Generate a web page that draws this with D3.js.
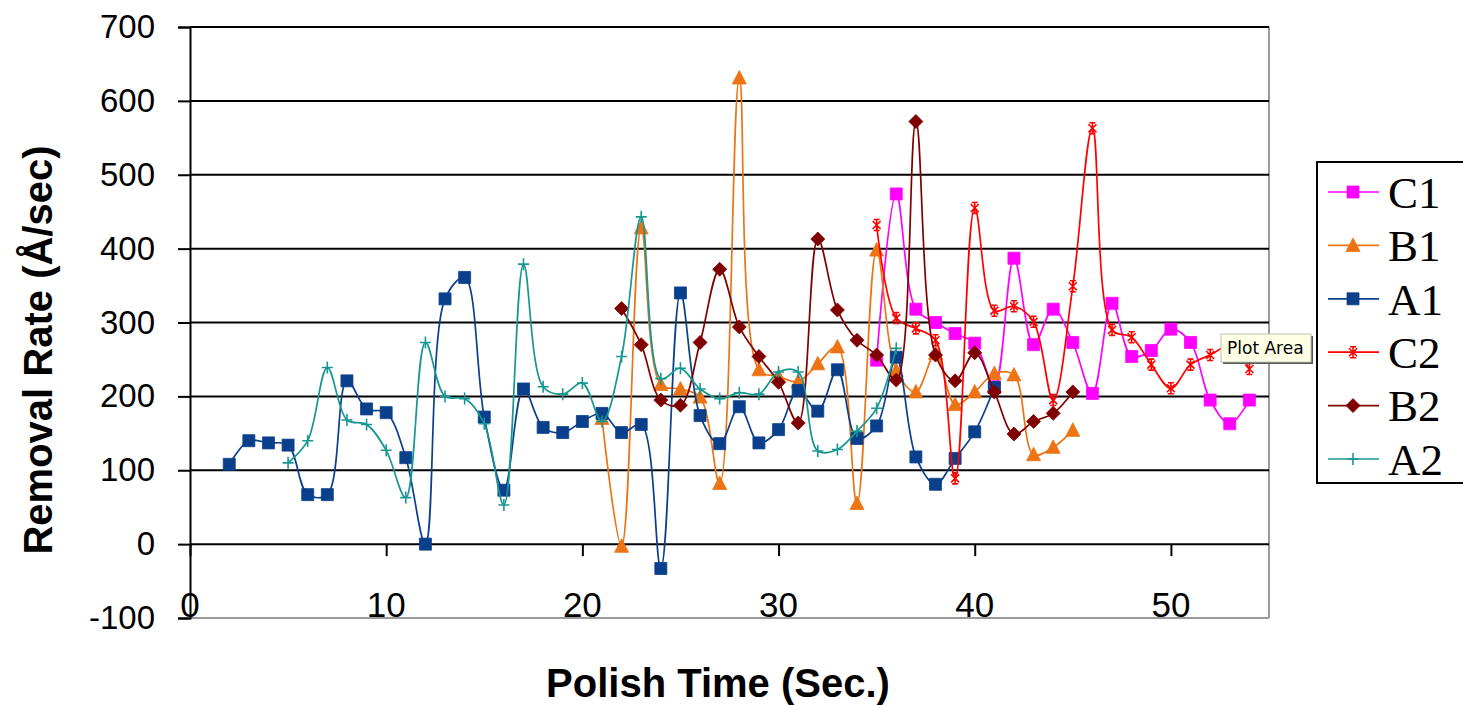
<!DOCTYPE html>
<html>
<head>
<meta charset="utf-8">
<script src="https://cdn.jsdelivr.net/npm/d3@7"></script>
<style>
  html, body { margin: 0; padding: 0; background: #fff; }
  svg { display: block; }
</style>
</head>
<body>
<svg id="chart" width="1463" height="705"></svg>
<script>
// Removal rate (Å/sec) sampled once per second of polish time, one array per run.
const seriesNames = ["C1", "B1", "A1", "C2", "B2", "A2"];

const c1Start = 35;
const c1Values = [249, 474, 318, 300, 285, 272, 213, 387, 270, 318, 273, 204, 326, 254, 262, 291, 273, 195, 163, 195];

const b1Start = 21;
const b1Values = [170, -3, 428, 216, 210, 199, 82, 631, 236, 227, 220, 244, 267, 55, 398, 235, 206, 258, 189, 206, 231, 229, 121, 131, 154];

const a1Start = 2;
const a1Values = [108, 140, 137, 134, 67, 67, 221, 183, 178, 117, 0, 332, 361, 172, 73, 210, 158, 151, 166, 177, 151, 162, -33, 340, 174, 136, 186, 137, 155, 208, 180, 236, 143, 160, 253, 118, 81, 116, 152, 212];

const c2Start = 35;
const c2Values = [432, 306, 292, 276, 89, 455, 316, 322, 301, 195, 349, 563, 290, 280, 243, 211, 243, 256, 268, 237];

const b2Start = 22;
const b2Values = [319, 270, 195, 188, 273, 372, 294, 254, 219, 164, 413, 317, 276, 256, 222, 572, 256, 221, 259, 206, 149, 166, 177, 206];

const a2Start = 5;
const a2Values = [110, 140, 239, 168, 162, 127, 63, 273, 200, 197, 163, 53, 379, 213, 203, 218, 166, 254, 443, 224, 238, 210, 197, 205, 203, 233, 233, 126, 128, 153, 184, 265];

const xTicks = [0, 10, 20, 30, 40, 50];
const yTicks = [-100, 0, 100, 200, 300, 400, 500, 600, 700];

const seriesColors = {
  C1: "#ff00ff",
  B1: "#ec7414",
  A1: "#0a3f8c",
  C2: "#ff0000",
  B2: "#800000",
  A2: "#179792"
};

const series = [
  { name: "C1", start: c1Start, values: c1Values, marker: "square" },
  { name: "B1", start: b1Start, values: b1Values, marker: "triangle" },
  { name: "A1", start: a1Start, values: a1Values, marker: "square" },
  { name: "C2", start: c2Start, values: c2Values, marker: "star" },
  { name: "B2", start: b2Start, values: b2Values, marker: "diamond" },
  { name: "A2", start: a2Start, values: a2Values, marker: "plus" }
].map(s => ({
  ...s,
  points: s.values.map((v, i) => ({ t: s.start + i, v }))
}));

const svg = d3.select("#chart");
const plot = { left: 190, right: 1269, top: 27, bottom: 618 };

const x = d3.scaleLinear().domain([0, 55]).range([plot.left, plot.right]);
const y = d3.scaleLinear().domain([-100, 700]).range([plot.bottom, plot.top]);

const sans = "'Liberation Sans', Arial, Helvetica, sans-serif";

// Plot-area frame (right and bottom edges are light grey)
svg.append("line")
  .attr("x1", plot.right).attr("x2", plot.right)
  .attr("y1", plot.top).attr("y2", plot.bottom)
  .attr("stroke", "#9a9a9a").attr("stroke-width", 2);
svg.append("line")
  .attr("x1", plot.left).attr("x2", plot.right)
  .attr("y1", plot.bottom).attr("y2", plot.bottom)
  .attr("stroke", "#9a9a9a").attr("stroke-width", 2);

// Horizontal gridlines
svg.append("g")
  .selectAll("line")
  .data(yTicks.filter(d => d > -100))
  .join("line")
  .attr("x1", plot.left).attr("x2", plot.right)
  .attr("y1", d => y(d)).attr("y2", d => y(d))
  .attr("stroke", "#000").attr("stroke-width", 2);

// Y axis with left ticks and labels (plain hyphen for negatives)
const yAxis = d3.axisLeft(y).tickValues(yTicks).tickSize(12).tickPadding(23).tickFormat(d => String(d));
const gy = svg.append("g").attr("transform", `translate(${plot.left},0)`).call(yAxis);
gy.select(".domain").attr("stroke", "#000").attr("stroke-width", 2);
gy.selectAll(".tick line").attr("stroke", "#000").attr("stroke-width", 2);
gy.selectAll(".tick text")
  .attr("font-family", sans).attr("font-size", 33).attr("fill", "#000");

// X axis crosses at zero, labels sit at the bottom of the plot area
const xAxis = d3.axisBottom(x).tickValues(xTicks).tickSize(12).tickFormat(d => String(d));
const gx = svg.append("g").attr("transform", `translate(0,${y(0)})`).call(xAxis);
gx.select(".domain").remove();
gx.selectAll(".tick line").attr("stroke", "#000").attr("stroke-width", 2);
gx.selectAll(".tick text").remove();

svg.append("g")
  .selectAll("text")
  .data(xTicks)
  .join("text")
  .attr("x", d => x(d))
  .attr("y", plot.bottom - 1)
  .attr("text-anchor", "middle")
  .attr("font-family", sans)
  .attr("font-size", 35)
  .attr("fill", "#000")
  .text(d => d);

// Axis titles
svg.append("text")
  .attr("transform", `translate(52,350) rotate(-90)`)
  .attr("text-anchor", "middle")
  .attr("font-family", sans)
  .attr("font-weight", "bold")
  .attr("font-size", 40)
  .text("Removal Rate (Å/sec)");

svg.append("text")
  .attr("x", 718)
  .attr("y", 697)
  .attr("text-anchor", "middle")
  .attr("font-family", sans)
  .attr("font-weight", "bold")
  .attr("font-size", 40)
  .text("Polish Time (Sec.)");

// Marker shapes
function markerPath(kind) {
  switch (kind) {
    case "square": return "M-6,-6H6V6H-6Z";
    case "triangle": return "M0,-7.5L7,6H-7Z";
    case "diamond": return "M0,-7L7,0L0,7L-7,0Z";
    case "star": return "M-4,-4L4,4M-4,4L4,-4M0,-5.5V5.5M-3,-5.5H3M-3,5.5H3";
    case "plus": return "M-5.5,0H5.5M0,-6V6";
  }
}
function markerFill(kind, color) {
  return (kind === "star" || kind === "plus") ? "none" : color;
}
function markerStroke(kind) {
  return (kind === "star" || kind === "plus") ? 1.6 : 0.8;
}

// Smoothed series lines
const line = d3.line()
  .x(d => x(d.t))
  .y(d => y(d.v))
  .curve(d3.curveCatmullRom.alpha(0.5));

const gSeries = svg.append("g");
series.forEach(s => {
  const color = seriesColors[s.name];
  const g = gSeries.append("g");
  g.append("path")
    .datum(s.points)
    .attr("d", line)
    .attr("fill", "none")
    .attr("stroke", color)
    .attr("stroke-width", 1.7);
  g.selectAll("path.marker")
    .data(s.points)
    .join("path")
    .attr("class", "marker")
    .attr("transform", d => `translate(${x(d.t)},${y(d.v)})`)
    .attr("d", markerPath(s.marker))
    .attr("fill", markerFill(s.marker, color))
    .attr("stroke", color)
    .attr("stroke-width", markerStroke(s.marker));
});

// Legend
const legend = svg.append("g");
legend.append("rect")
  .attr("x", 1317).attr("y", 162)
  .attr("width", 160).attr("height", 321)
  .attr("fill", "#fff").attr("stroke", "#000").attr("stroke-width", 2);

const legendY = d3.scalePoint().domain(seriesNames).range([192, 459]);
series.forEach(s => {
  const color = seriesColors[s.name];
  const ly = legendY(s.name);
  legend.append("line")
    .attr("x1", 1328).attr("x2", 1379)
    .attr("y1", ly).attr("y2", ly)
    .attr("stroke", color).attr("stroke-width", 1.7);
  legend.append("path")
    .attr("transform", `translate(1353,${ly})`)
    .attr("d", markerPath(s.marker))
    .attr("fill", markerFill(s.marker, color))
    .attr("stroke", color)
    .attr("stroke-width", markerStroke(s.marker));
  legend.append("text")
    .attr("x", 1388).attr("y", ly)
    .attr("dy", "0.35em")
    .attr("font-family", "'Liberation Serif', 'Times New Roman', serif")
    .attr("font-size", 45)
    .attr("fill", "#000")
    .text(s.name);
});

// Hover tooltip over the plot area
const tip = svg.append("g").attr("transform", "translate(1221,334)");
tip.append("rect")
  .attr("x", 2).attr("y", 2).attr("width", 90).attr("height", 28)
  .attr("fill", "#555");
tip.append("rect")
  .attr("x", 0).attr("y", 0).attr("width", 90).attr("height", 28)
  .attr("fill", "#ffffe6").attr("stroke", "#b8c4b0").attr("stroke-width", 1);
tip.append("text")
  .attr("x", 6).attr("y", 20)
  .attr("font-family", "'DejaVu Sans', Tahoma, sans-serif")
  .attr("font-size", 17)
  .attr("fill", "#000")
  .text("Plot Area");
</script>
</body>
</html>
